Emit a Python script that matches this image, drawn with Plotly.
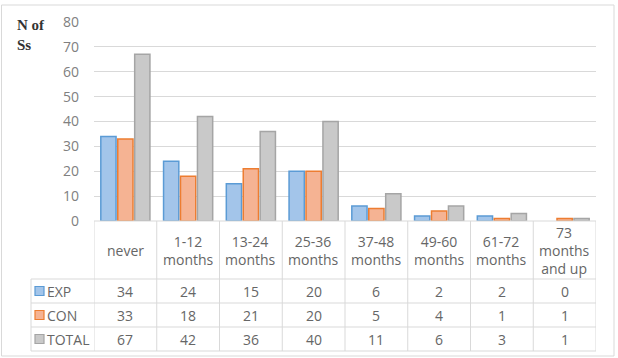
import plotly.graph_objects as go

categories = ["never", "1-12<br>months", "13-24<br>months", "25-36<br>months",
              "37-48<br>months", "49-60<br>months", "61-72<br>months", "73<br>months<br>and up"]
series_names = ["EXP", "CON", "TOTAL"]
exp_vals = [34, 24, 15, 20, 6, 2, 2, 0]
con_vals = [33, 18, 21, 20, 5, 4, 1, 1]
total_vals = [67, 42, 36, 40, 11, 6, 3, 1]
y_ticks = [0, 10, 20, 30, 40, 50, 60, 70, 80]

W, H = 618, 358
def py(pix):
    return 1 - pix / H
def px(pix):
    return pix / W

fills = ["#a3c5ea", "#f5b393", "#c9c9c9"]
lines = ["#5b9bd5", "#ed7d31", "#a5a5a5"]
series = [exp_vals, con_vals, total_vals]
xs = list(range(len(categories)))

fig = go.Figure()
for name, vals, fc, lc in zip(series_names, series, fills, lines):
    lw = [1.5 if v > 0 else 0 for v in vals]
    fig.add_trace(go.Bar(x=xs, y=vals, name=name, marker=dict(color=fc, line=dict(color=lc, width=lw))))

txt_color = "#666666"
grid_c = "#d9d9d9"
font_fam = "Open Sans, Liberation Sans, sans-serif"

fig.update_layout(
    width=W, height=H, margin=dict(l=0, r=0, t=0, b=0, autoexpand=False),
    paper_bgcolor="white", plot_bgcolor="white",
    barmode="group", bargap=0.19, bargroupgap=0.1,
    showlegend=False,
    xaxis=dict(domain=[px(94), px(596)], range=[-0.5, len(categories) - 0.5],
               showticklabels=False, showgrid=False, zeroline=False, showline=False, ticks=""),
    yaxis=dict(domain=[py(221), py(22)], range=[0, 80], tickvals=y_ticks, automargin=False,
               showgrid=True, gridcolor=grid_c, gridwidth=1, zeroline=False, showline=False,
               ticks="", ticklabelstandoff=14,
               tickfont=dict(family=font_fam, size=14, color="#808080")),
)

shapes = []
ann = []
# outer frame
shapes.append(dict(type="rect", xref="paper", yref="paper", x0=px(1.5), x1=px(614), y0=py(356), y1=py(5),
                   line=dict(color="#d9d9d9", width=1), fillcolor="rgba(0,0,0,0)"))
# table top line (axis)
shapes.append(dict(type="line", xref="x", yref="paper", x0=-0.5, x1=len(categories) - 0.5, y0=py(221), y1=py(221),
                   line=dict(color=grid_c, width=1)))
# vertical column lines
for i in range(len(categories) + 1):
    shapes.append(dict(type="line", xref="x", yref="paper", x0=i - 0.5, x1=i - 0.5, y0=py(221), y1=py(351),
                       line=dict(color=grid_c, width=1)))
# label column
shapes.append(dict(type="line", xref="paper", yref="paper", x0=px(31), x1=px(31), y0=py(279), y1=py(351),
                   line=dict(color=grid_c, width=1)))
for yy in [279, 303, 327, 351]:
    shapes.append(dict(type="line", xref="paper", yref="paper",
                       x0=px(31), x1=px(596), y0=py(yy), y1=py(yy), line=dict(color=grid_c, width=1)))

# header text
for i, c in enumerate(categories):
    ann.append(dict(x=i, y=py(250), xref="x", yref="paper", text=c, showarrow=False,
                    xanchor="center", yanchor="middle",
                    font=dict(family=font_fam, size=14, color=txt_color), align="center"))
# rows
row_centers = [291, 315, 339]
for name, vals, fc, lc, yc in zip(series_names, series, fills, lines, row_centers):
    shapes.append(dict(type="rect", xref="paper", yref="paper", x0=px(35), x1=px(44), y0=py(yc + 4.5), y1=py(yc - 4.5),
                       fillcolor=fc, line=dict(color=lc, width=1.2)))
    ann.append(dict(x=px(44.5), y=py(yc), xref="paper", yref="paper", text=name, showarrow=False,
                    xanchor="left", yanchor="middle", font=dict(family=font_fam, size=14, color=txt_color)))
    for i, v in enumerate(vals):
        ann.append(dict(x=i, y=py(yc), xref="x", yref="paper", text=str(v), showarrow=False,
                        xanchor="center", yanchor="middle",
                        font=dict(family=font_fam, size=14, color=txt_color)))

ann.append(dict(x=px(15), y=py(15), xref="paper", yref="paper", text="<b>N of<br>Ss</b>", showarrow=False,
                xanchor="left", yanchor="top", align="left",
                font=dict(family="Liberation Serif, serif", size=15, color="#333333")))

fig.update_layout(shapes=shapes, annotations=ann)
fig.write_html("out.html")
